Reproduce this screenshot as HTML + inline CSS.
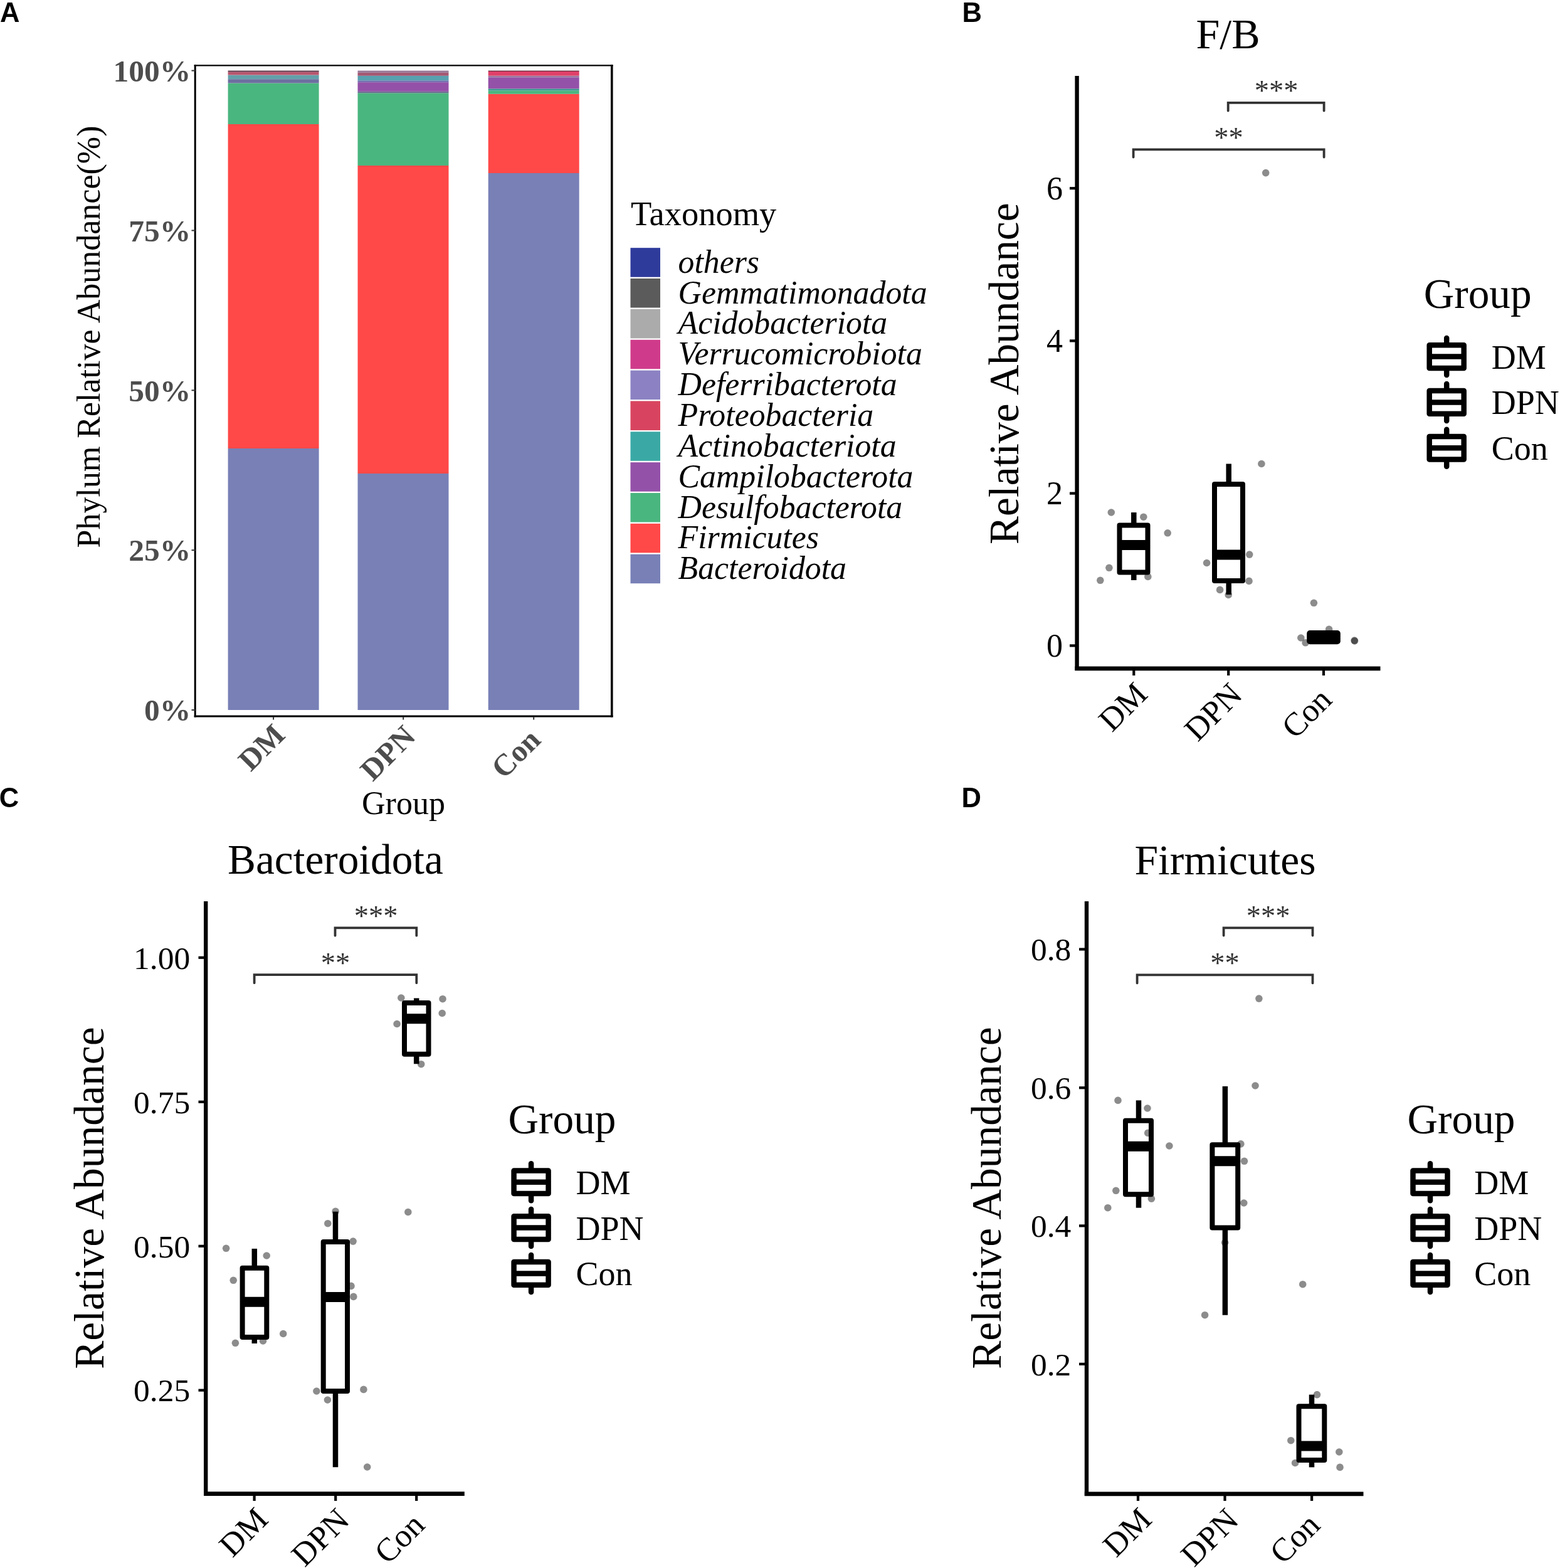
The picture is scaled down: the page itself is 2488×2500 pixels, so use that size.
<!DOCTYPE html>
<html><head><meta charset="utf-8"><title>Figure</title>
<style>
html,body{margin:0;padding:0;background:#fff;width:2488px;height:2500px;overflow:hidden;}
svg{display:block;}
.ser{font-family:"Liberation Serif","Times New Roman",serif;}
.san{font-family:"Liberation Sans",Arial,sans-serif;}
</style></head><body>
<svg width="2488" height="2500" viewBox="0 0 2488 2500">
<rect x="0" y="0" width="2488" height="2500" fill="#fff"/>
<text class="san" x="0" y="35" font-size="43.5" text-anchor="start" font-weight="bold" font-style="normal" fill="#000">A</text>
<text class="san" x="1534.4" y="35" font-size="43.5" text-anchor="start" font-weight="bold" font-style="normal" fill="#000">B</text>
<text class="san" x="-1.2" y="1287" font-size="43.5" text-anchor="start" font-weight="bold" font-style="normal" fill="#000">C</text>
<text class="san" x="1533.5" y="1287" font-size="43.5" text-anchor="start" font-weight="bold" font-style="normal" fill="#000">D</text>
<rect x="363.6" y="715.0" width="145.0" height="417.0" fill="#7880b6"/>
<rect x="363.6" y="198.0" width="145.0" height="517.0" fill="#ff4848"/>
<rect x="363.6" y="132.5" width="145.0" height="65.5" fill="#4ab67f"/>
<rect x="363.6" y="126.2" width="145.0" height="6.3" fill="#6d6ea0"/>
<rect x="363.6" y="119.5" width="145.0" height="6.7" fill="#63a0aa"/>
<rect x="363.6" y="114.6" width="145.0" height="4.9" fill="#b9566f"/>
<rect x="363.6" y="112.6" width="145.0" height="2.0" fill="#5a3344"/>
<rect x="570.5" y="755.0" width="145.0" height="377.0" fill="#7880b6"/>
<rect x="570.5" y="264.0" width="145.0" height="491.0" fill="#ff4848"/>
<rect x="570.5" y="148.3" width="145.0" height="115.7" fill="#4ab67f"/>
<rect x="570.5" y="145.8" width="145.0" height="2.5" fill="#6a6a90"/>
<rect x="570.5" y="131.2" width="145.0" height="14.6" fill="#9451a8"/>
<rect x="570.5" y="128.3" width="145.0" height="2.9" fill="#7470b0"/>
<rect x="570.5" y="120.8" width="145.0" height="7.5" fill="#58a0b0"/>
<rect x="570.5" y="115.8" width="145.0" height="5.0" fill="#a45872"/>
<rect x="570.5" y="112.6" width="145.0" height="3.2" fill="#9a7898"/>
<rect x="778.7" y="276.0" width="145.0" height="856.0" fill="#7880b6"/>
<rect x="778.7" y="149.8" width="145.0" height="126.2" fill="#ff4848"/>
<rect x="778.7" y="144.5" width="145.0" height="5.3" fill="#4ab67f"/>
<rect x="778.7" y="141.4" width="145.0" height="3.1" fill="#3a9a90"/>
<rect x="778.7" y="123.3" width="145.0" height="18.1" fill="#9451a8"/>
<rect x="778.7" y="120.7" width="145.0" height="2.6" fill="#9a7aa0"/>
<rect x="778.7" y="114.0" width="145.0" height="6.7" fill="#e04068"/>
<rect x="778.7" y="112.6" width="145.0" height="1.4" fill="#6e2c40"/>
<line x1="309.7" y1="104.4" x2="977.6" y2="104.4" stroke="#000" stroke-width="2.4" stroke-linecap="butt"/>
<line x1="309.7" y1="1142.0" x2="977.6" y2="1142.0" stroke="#000" stroke-width="3.2" stroke-linecap="butt"/>
<line x1="311.2" y1="103.2" x2="311.2" y2="1143.6" stroke="#000" stroke-width="3.0" stroke-linecap="butt"/>
<line x1="975.8" y1="103.2" x2="975.8" y2="1143.6" stroke="#000" stroke-width="3.6" stroke-linecap="butt"/>
<line x1="305.5" y1="1132.0" x2="311.5" y2="1132.0" stroke="#333" stroke-width="2.0" stroke-linecap="butt"/>
<text class="ser" x="304.3" y="1149.3" font-size="49.5" text-anchor="end" font-weight="bold" font-style="normal" fill="#4d4d4d">0%</text>
<line x1="305.5" y1="877.15" x2="311.5" y2="877.15" stroke="#333" stroke-width="2.0" stroke-linecap="butt"/>
<text class="ser" x="304.3" y="894.4" font-size="49.5" text-anchor="end" font-weight="bold" font-style="normal" fill="#4d4d4d">25%</text>
<line x1="305.5" y1="622.3" x2="311.5" y2="622.3" stroke="#333" stroke-width="2.0" stroke-linecap="butt"/>
<text class="ser" x="304.3" y="639.6" font-size="49.5" text-anchor="end" font-weight="bold" font-style="normal" fill="#4d4d4d">50%</text>
<line x1="305.5" y1="367.45000000000005" x2="311.5" y2="367.45000000000005" stroke="#333" stroke-width="2.0" stroke-linecap="butt"/>
<text class="ser" x="304.3" y="384.8" font-size="49.5" text-anchor="end" font-weight="bold" font-style="normal" fill="#4d4d4d">75%</text>
<line x1="305.5" y1="112.60000000000002" x2="311.5" y2="112.60000000000002" stroke="#333" stroke-width="2.0" stroke-linecap="butt"/>
<text class="ser" x="304.3" y="129.9" font-size="49.5" text-anchor="end" font-weight="bold" font-style="normal" fill="#4d4d4d">100%</text>
<line x1="436.1" y1="1143" x2="436.1" y2="1147.5" stroke="#333" stroke-width="2.0" stroke-linecap="butt"/>
<text class="ser" x="457.2" y="1174.4" font-size="48.5" text-anchor="end" font-weight="bold" font-style="normal" fill="#4d4d4d" transform="rotate(-45 457.2 1174.4)">DM</text>
<line x1="643.2" y1="1143" x2="643.2" y2="1147.5" stroke="#333" stroke-width="2.0" stroke-linecap="butt"/>
<text class="ser" x="665.0" y="1176.7" font-size="48.5" text-anchor="end" font-weight="bold" font-style="normal" fill="#4d4d4d" transform="rotate(-45 665.0 1176.7)">DPN</text>
<line x1="851.2" y1="1143" x2="851.2" y2="1147.5" stroke="#333" stroke-width="2.0" stroke-linecap="butt"/>
<text class="ser" x="864.6" y="1182.4" font-size="48.5" text-anchor="end" font-weight="bold" font-style="normal" fill="#4d4d4d" transform="rotate(-45 864.6 1182.4)">Con</text>
<text class="ser" x="643.5" y="1298.3" font-size="52" text-anchor="middle" font-weight="normal" font-style="normal" fill="#000">Group</text>
<text class="ser" x="159" y="537" font-size="52" text-anchor="middle" font-weight="normal" font-style="normal" fill="#000" transform="rotate(-90 159 537)">Phylum Relative Abundance(%)</text>
<text class="ser" x="1006" y="359.3" font-size="54.5" text-anchor="start" font-weight="normal" font-style="normal" fill="#000">Taxonomy</text>
<rect x="1005.5" y="395.2" width="47.5" height="46.5" fill="#2f3b9b"/>
<text class="ser" x="1081.5" y="434.7" font-size="51.8" text-anchor="start" font-weight="normal" font-style="italic" fill="#000">others</text>
<rect x="1005.5" y="444.05" width="47.5" height="46.5" fill="#5b5b5b"/>
<text class="ser" x="1081.5" y="483.55" font-size="51.8" text-anchor="start" font-weight="normal" font-style="italic" fill="#000">Gemmatimonadota</text>
<rect x="1005.5" y="492.9" width="47.5" height="46.5" fill="#ababab"/>
<text class="ser" x="1081.5" y="532.4" font-size="51.8" text-anchor="start" font-weight="normal" font-style="italic" fill="#000">Acidobacteriota</text>
<rect x="1005.5" y="541.75" width="47.5" height="46.5" fill="#cf3b8a"/>
<text class="ser" x="1081.5" y="581.25" font-size="51.8" text-anchor="start" font-weight="normal" font-style="italic" fill="#000">Verrucomicrobiota</text>
<rect x="1005.5" y="590.6" width="47.5" height="46.5" fill="#8c82c3"/>
<text class="ser" x="1081.5" y="630.1" font-size="51.8" text-anchor="start" font-weight="normal" font-style="italic" fill="#000">Deferribacterota</text>
<rect x="1005.5" y="639.45" width="47.5" height="46.5" fill="#d8445f"/>
<text class="ser" x="1081.5" y="678.95" font-size="51.8" text-anchor="start" font-weight="normal" font-style="italic" fill="#000">Proteobacteria</text>
<rect x="1005.5" y="688.3" width="47.5" height="46.5" fill="#3aa9a5"/>
<text class="ser" x="1081.5" y="727.8" font-size="51.8" text-anchor="start" font-weight="normal" font-style="italic" fill="#000">Actinobacteriota</text>
<rect x="1005.5" y="737.15" width="47.5" height="46.5" fill="#9451a8"/>
<text class="ser" x="1081.5" y="776.65" font-size="51.8" text-anchor="start" font-weight="normal" font-style="italic" fill="#000">Campilobacterota</text>
<rect x="1005.5" y="786.0" width="47.5" height="46.5" fill="#4ab67f"/>
<text class="ser" x="1081.5" y="825.5" font-size="51.8" text-anchor="start" font-weight="normal" font-style="italic" fill="#000">Desulfobacterota</text>
<rect x="1005.5" y="834.85" width="47.5" height="46.5" fill="#ff4848"/>
<text class="ser" x="1081.5" y="874.35" font-size="51.8" text-anchor="start" font-weight="normal" font-style="italic" fill="#000">Firmicutes</text>
<rect x="1005.5" y="883.7" width="47.5" height="46.5" fill="#7880b6"/>
<text class="ser" x="1081.5" y="923.2" font-size="51.8" text-anchor="start" font-weight="normal" font-style="italic" fill="#000">Bacteroidota</text>
<text class="ser" x="1958.6" y="77.2" font-size="68" text-anchor="middle" font-weight="normal" font-style="normal" fill="#000">F/B</text>
<line x1="1717.6" y1="121" x2="1717.6" y2="1069" stroke="#000" stroke-width="6.4" stroke-linecap="butt"/>
<line x1="1714.4" y1="1065.8" x2="2201.5" y2="1065.8" stroke="#000" stroke-width="6.8" stroke-linecap="butt"/>
<line x1="1706" y1="300.2" x2="1715" y2="300.2" stroke="#000" stroke-width="4.2" stroke-linecap="butt"/>
<text class="ser" x="1695" y="318.0" font-size="52" text-anchor="end" font-weight="normal" font-style="normal" fill="#000">6</text>
<line x1="1706" y1="543.4" x2="1715" y2="543.4" stroke="#000" stroke-width="4.2" stroke-linecap="butt"/>
<text class="ser" x="1695" y="561.2" font-size="52" text-anchor="end" font-weight="normal" font-style="normal" fill="#000">4</text>
<line x1="1706" y1="786.6" x2="1715" y2="786.6" stroke="#000" stroke-width="4.2" stroke-linecap="butt"/>
<text class="ser" x="1695" y="804.4" font-size="52" text-anchor="end" font-weight="normal" font-style="normal" fill="#000">2</text>
<line x1="1706" y1="1029.4" x2="1715" y2="1029.4" stroke="#000" stroke-width="4.2" stroke-linecap="butt"/>
<text class="ser" x="1695" y="1047.2" font-size="52" text-anchor="end" font-weight="normal" font-style="normal" fill="#000">0</text>
<line x1="1808.3" y1="1068" x2="1808.3" y2="1077" stroke="#000" stroke-width="4.2" stroke-linecap="butt"/>
<text class="ser" x="1832.8" y="1109.5" font-size="52" text-anchor="end" font-weight="normal" font-style="normal" fill="#000" transform="rotate(-45 1832.8 1109.5)">DM</text>
<line x1="1959.2" y1="1068" x2="1959.2" y2="1077" stroke="#000" stroke-width="4.2" stroke-linecap="butt"/>
<text class="ser" x="1983.7" y="1110.5" font-size="52" text-anchor="end" font-weight="normal" font-style="normal" fill="#000" transform="rotate(-45 1983.7 1110.5)">DPN</text>
<line x1="2111.0" y1="1068" x2="2111.0" y2="1077" stroke="#000" stroke-width="4.2" stroke-linecap="butt"/>
<text class="ser" x="2126.7" y="1118.5" font-size="52" text-anchor="end" font-weight="normal" font-style="normal" fill="#000" transform="rotate(-45 2126.7 1118.5)">Con</text>
<text class="ser" x="1623.7" y="595.6" font-size="67.4" text-anchor="middle" font-weight="normal" font-style="normal" fill="#000" transform="rotate(-90 1623.7 595.6)">Relative Abundance</text>
<line x1="1808.3" y1="817" x2="1808.3" y2="837.5" stroke="#000" stroke-width="8.5" stroke-linecap="butt"/>
<line x1="1808.3" y1="912.4" x2="1808.3" y2="925" stroke="#000" stroke-width="8.5" stroke-linecap="butt"/>
<rect x="1785.5" y="837.5" width="45.0" height="74.9" fill="#fff" stroke="#000" stroke-width="8" stroke-linejoin="round"/>
<line x1="1785.5" y1="869" x2="1830.5" y2="869" stroke="#000" stroke-width="16" stroke-linecap="butt"/>
<line x1="1959.7" y1="739.5" x2="1959.7" y2="772" stroke="#000" stroke-width="8.5" stroke-linecap="butt"/>
<line x1="1959.7" y1="926" x2="1959.7" y2="948" stroke="#000" stroke-width="8.5" stroke-linecap="butt"/>
<rect x="1937" y="772" width="45" height="154" fill="#fff" stroke="#000" stroke-width="8" stroke-linejoin="round"/>
<line x1="1937" y1="884.5" x2="1982" y2="884.5" stroke="#000" stroke-width="16" stroke-linecap="butt"/>
<rect x="2084.2" y="1005" width="53.6" height="22.2" rx="5" fill="#000"/>
<circle cx="1772.3" cy="817" r="5.8" fill="#000" fill-opacity="0.45"/>
<circle cx="1823.8" cy="824.2" r="5.8" fill="#000" fill-opacity="0.45"/>
<circle cx="1862.2" cy="849.8" r="5.8" fill="#000" fill-opacity="0.45"/>
<circle cx="1768.9" cy="905.3" r="5.8" fill="#000" fill-opacity="0.45"/>
<circle cx="1754.8" cy="925.3" r="5.8" fill="#000" fill-opacity="0.45"/>
<circle cx="1830.8" cy="919.4" r="5.8" fill="#000" fill-opacity="0.45"/>
<circle cx="2011.9" cy="739.5" r="5.8" fill="#000" fill-opacity="0.45"/>
<circle cx="1992.7" cy="884.1" r="5.8" fill="#000" fill-opacity="0.45"/>
<circle cx="1924.6" cy="897.5" r="5.8" fill="#000" fill-opacity="0.45"/>
<circle cx="1992" cy="926.4" r="5.8" fill="#000" fill-opacity="0.45"/>
<circle cx="1945.6" cy="940.4" r="5.8" fill="#000" fill-opacity="0.45"/>
<circle cx="1959.2" cy="948.5" r="5.8" fill="#000" fill-opacity="0.45"/>
<circle cx="2018.7" cy="275.6" r="5.8" fill="#000" fill-opacity="0.45"/>
<circle cx="2095.4" cy="961.3" r="5.8" fill="#000" fill-opacity="0.45"/>
<circle cx="2074.8" cy="1017" r="5.8" fill="#000" fill-opacity="0.45"/>
<circle cx="2082.1" cy="1024.8" r="5.8" fill="#000" fill-opacity="0.45"/>
<circle cx="2119.6" cy="1003.4" r="5.8" fill="#000" fill-opacity="0.45"/>
<circle cx="2160.1" cy="1021.1" r="5.8" fill="#000" fill-opacity="0.45"/>
<circle cx="2160.5" cy="1022" r="5.8" fill="#000" fill-opacity="0.45"/>
<path d="M1958.7 176.6 L1958.7 163.8 L2111.6 163.8 L2111.6 176.6" fill="none" stroke="#333" stroke-width="3.8" stroke-linecap="round"/>
<path d="M1807.6 250.5 L1807.6 238.4 L2111.6 238.4 L2111.6 250.5" fill="none" stroke="#333" stroke-width="3.8" stroke-linecap="round"/>
<text class="ser" x="2035.5" y="160.3" font-size="46.5" text-anchor="middle" font-weight="normal" font-style="normal" fill="#333">***</text>
<text class="ser" x="1959.5" y="234.8" font-size="46.5" text-anchor="middle" font-weight="normal" font-style="normal" fill="#333">**</text>
<text class="ser" x="2270.7" y="491" font-size="67.3" text-anchor="start" font-weight="normal" font-style="normal" fill="#000">Group</text>
<line x1="2307.2" y1="539.1" x2="2307.2" y2="598.1" stroke="#000" stroke-width="8.5" stroke-linecap="round"/>
<rect x="2279.7" y="550.3000000000001" width="55" height="36.6" fill="#fff" stroke="#000" stroke-width="8.5" stroke-linejoin="round"/>
<line x1="2279.7" y1="568.6" x2="2334.7" y2="568.6" stroke="#000" stroke-width="8.5" stroke-linecap="butt"/>
<text class="ser" x="2378.7" y="587.6" font-size="54" text-anchor="start" font-weight="normal" font-style="normal" fill="#000">DM</text>
<line x1="2307.2" y1="611.9" x2="2307.2" y2="670.9" stroke="#000" stroke-width="8.5" stroke-linecap="round"/>
<rect x="2279.7" y="623.1" width="55" height="36.6" fill="#fff" stroke="#000" stroke-width="8.5" stroke-linejoin="round"/>
<line x1="2279.7" y1="641.4" x2="2334.7" y2="641.4" stroke="#000" stroke-width="8.5" stroke-linecap="butt"/>
<text class="ser" x="2378.7" y="660.4" font-size="54" text-anchor="start" font-weight="normal" font-style="normal" fill="#000">DPN</text>
<line x1="2307.2" y1="684.7" x2="2307.2" y2="743.7" stroke="#000" stroke-width="8.5" stroke-linecap="round"/>
<rect x="2279.7" y="695.9000000000001" width="55" height="36.6" fill="#fff" stroke="#000" stroke-width="8.5" stroke-linejoin="round"/>
<line x1="2279.7" y1="714.2" x2="2334.7" y2="714.2" stroke="#000" stroke-width="8.5" stroke-linecap="butt"/>
<text class="ser" x="2378.7" y="733.2" font-size="54" text-anchor="start" font-weight="normal" font-style="normal" fill="#000">Con</text>
<text class="ser" x="535" y="1393" font-size="67.3" text-anchor="middle" font-weight="normal" font-style="normal" fill="#000">Bacteroidota</text>
<line x1="328.2" y1="1437" x2="328.2" y2="2385" stroke="#000" stroke-width="6.4" stroke-linecap="butt"/>
<line x1="325" y1="2381.7" x2="740.8" y2="2381.7" stroke="#000" stroke-width="6.8" stroke-linecap="butt"/>
<line x1="316.5" y1="1526.8" x2="325.5" y2="1526.8" stroke="#000" stroke-width="4.2" stroke-linecap="butt"/>
<text class="ser" x="303.2" y="1544.6" font-size="51.5" text-anchor="end" font-weight="normal" font-style="normal" fill="#000">1.00</text>
<line x1="316.5" y1="1756.8" x2="325.5" y2="1756.8" stroke="#000" stroke-width="4.2" stroke-linecap="butt"/>
<text class="ser" x="303.2" y="1774.6" font-size="51.5" text-anchor="end" font-weight="normal" font-style="normal" fill="#000">0.75</text>
<line x1="316.5" y1="1986.8" x2="325.5" y2="1986.8" stroke="#000" stroke-width="4.2" stroke-linecap="butt"/>
<text class="ser" x="303.2" y="2004.6" font-size="51.5" text-anchor="end" font-weight="normal" font-style="normal" fill="#000">0.50</text>
<line x1="316.5" y1="2216.6" x2="325.5" y2="2216.6" stroke="#000" stroke-width="4.2" stroke-linecap="butt"/>
<text class="ser" x="303.2" y="2234.4" font-size="51.5" text-anchor="end" font-weight="normal" font-style="normal" fill="#000">0.25</text>
<line x1="405.6" y1="2384" x2="405.6" y2="2393" stroke="#000" stroke-width="4.2" stroke-linecap="butt"/>
<text class="ser" x="430.1" y="2425.4" font-size="52" text-anchor="end" font-weight="normal" font-style="normal" fill="#000" transform="rotate(-45 430.1 2425.4)">DM</text>
<line x1="535.2" y1="2384" x2="535.2" y2="2393" stroke="#000" stroke-width="4.2" stroke-linecap="butt"/>
<text class="ser" x="559.7" y="2426.4" font-size="52" text-anchor="end" font-weight="normal" font-style="normal" fill="#000" transform="rotate(-45 559.7 2426.4)">DPN</text>
<line x1="664.2" y1="2384" x2="664.2" y2="2393" stroke="#000" stroke-width="4.2" stroke-linecap="butt"/>
<text class="ser" x="679.9" y="2434.4" font-size="52" text-anchor="end" font-weight="normal" font-style="normal" fill="#000" transform="rotate(-45 679.9 2434.4)">Con</text>
<text class="ser" x="164.5" y="1910" font-size="67.5" text-anchor="middle" font-weight="normal" font-style="normal" fill="#000" transform="rotate(-90 164.5 1910)">Relative Abundance</text>
<line x1="405.8" y1="1990.9" x2="405.8" y2="2021.8" stroke="#000" stroke-width="8.5" stroke-linecap="butt"/>
<line x1="405.8" y1="2131.9" x2="405.8" y2="2142" stroke="#000" stroke-width="8.5" stroke-linecap="butt"/>
<rect x="386.6" y="2021.8" width="38.7" height="110.1" fill="#fff" stroke="#000" stroke-width="8" stroke-linejoin="round"/>
<line x1="386.6" y1="2075.8" x2="425.3" y2="2075.8" stroke="#000" stroke-width="16" stroke-linecap="butt"/>
<line x1="535" y1="1931.8" x2="535" y2="1979.9" stroke="#000" stroke-width="8.5" stroke-linecap="butt"/>
<line x1="535" y1="2218" x2="535" y2="2339.2" stroke="#000" stroke-width="8.5" stroke-linecap="butt"/>
<rect x="515.7" y="1979.9" width="38.3" height="238.1" fill="#fff" stroke="#000" stroke-width="8" stroke-linejoin="round"/>
<line x1="515.7" y1="2068" x2="554" y2="2068" stroke="#000" stroke-width="16" stroke-linecap="butt"/>
<line x1="664.2" y1="1591.5" x2="664.2" y2="1599" stroke="#000" stroke-width="8.5" stroke-linecap="butt"/>
<line x1="664.2" y1="1680.7" x2="664.2" y2="1696.3" stroke="#000" stroke-width="8.5" stroke-linecap="butt"/>
<rect x="645" y="1599" width="38.5" height="81.7" fill="#fff" stroke="#000" stroke-width="8" stroke-linejoin="round"/>
<line x1="645" y1="1624.2" x2="683.5" y2="1624.2" stroke="#000" stroke-width="16" stroke-linecap="butt"/>
<circle cx="360.6" cy="1990.3" r="5.8" fill="#000" fill-opacity="0.45"/>
<circle cx="425.2" cy="2002" r="5.8" fill="#000" fill-opacity="0.45"/>
<circle cx="372.2" cy="2041.3" r="5.8" fill="#000" fill-opacity="0.45"/>
<circle cx="451.7" cy="2126.5" r="5.8" fill="#000" fill-opacity="0.45"/>
<circle cx="375.4" cy="2141.3" r="5.8" fill="#000" fill-opacity="0.45"/>
<circle cx="419.5" cy="2138" r="5.8" fill="#000" fill-opacity="0.45"/>
<circle cx="535.1" cy="1931.4" r="5.8" fill="#000" fill-opacity="0.45"/>
<circle cx="522.8" cy="1950.7" r="5.8" fill="#000" fill-opacity="0.45"/>
<circle cx="563.1" cy="1979.1" r="5.8" fill="#000" fill-opacity="0.45"/>
<circle cx="560" cy="2050.4" r="5.8" fill="#000" fill-opacity="0.45"/>
<circle cx="563.8" cy="2067.4" r="5.8" fill="#000" fill-opacity="0.45"/>
<circle cx="504.9" cy="2218" r="5.8" fill="#000" fill-opacity="0.45"/>
<circle cx="522.4" cy="2232" r="5.8" fill="#000" fill-opacity="0.45"/>
<circle cx="579.9" cy="2215.4" r="5.8" fill="#000" fill-opacity="0.45"/>
<circle cx="585.7" cy="2339" r="5.8" fill="#000" fill-opacity="0.45"/>
<circle cx="639.8" cy="1591" r="5.8" fill="#000" fill-opacity="0.45"/>
<circle cx="706" cy="1592.7" r="5.8" fill="#000" fill-opacity="0.45"/>
<circle cx="705.2" cy="1615.5" r="5.8" fill="#000" fill-opacity="0.45"/>
<circle cx="633.1" cy="1632.5" r="5.8" fill="#000" fill-opacity="0.45"/>
<circle cx="671.7" cy="1696.7" r="5.8" fill="#000" fill-opacity="0.45"/>
<circle cx="650.8" cy="1932.5" r="5.8" fill="#000" fill-opacity="0.45"/>
<path d="M534.5 1491.7 L534.5 1479.3 L664.3 1479.3 L664.3 1491.7" fill="none" stroke="#333" stroke-width="3.8" stroke-linecap="round"/>
<path d="M405.6 1567.2 L405.6 1554.2 L664.3 1554.2 L664.3 1567.2" fill="none" stroke="#333" stroke-width="3.8" stroke-linecap="round"/>
<text class="ser" x="599.5" y="1476.3" font-size="46.5" text-anchor="middle" font-weight="normal" font-style="normal" fill="#333">***</text>
<text class="ser" x="535" y="1550.8" font-size="46.5" text-anchor="middle" font-weight="normal" font-style="normal" fill="#333">**</text>
<text class="ser" x="810.5" y="1807" font-size="67.3" text-anchor="start" font-weight="normal" font-style="normal" fill="#000">Group</text>
<line x1="847.1" y1="1855.3" x2="847.1" y2="1914.3" stroke="#000" stroke-width="8.5" stroke-linecap="round"/>
<rect x="819.6" y="1866.5" width="55" height="36.6" fill="#fff" stroke="#000" stroke-width="8.5" stroke-linejoin="round"/>
<line x1="819.6" y1="1884.8" x2="874.6" y2="1884.8" stroke="#000" stroke-width="8.5" stroke-linecap="butt"/>
<text class="ser" x="918.4" y="1903.8" font-size="54" text-anchor="start" font-weight="normal" font-style="normal" fill="#000">DM</text>
<line x1="847.1" y1="1928.1" x2="847.1" y2="1987.1" stroke="#000" stroke-width="8.5" stroke-linecap="round"/>
<rect x="819.6" y="1939.3" width="55" height="36.6" fill="#fff" stroke="#000" stroke-width="8.5" stroke-linejoin="round"/>
<line x1="819.6" y1="1957.6" x2="874.6" y2="1957.6" stroke="#000" stroke-width="8.5" stroke-linecap="butt"/>
<text class="ser" x="918.4" y="1976.6" font-size="54" text-anchor="start" font-weight="normal" font-style="normal" fill="#000">DPN</text>
<line x1="847.1" y1="2000.8999999999999" x2="847.1" y2="2059.8999999999996" stroke="#000" stroke-width="8.5" stroke-linecap="round"/>
<rect x="819.6" y="2012.1" width="55" height="36.6" fill="#fff" stroke="#000" stroke-width="8.5" stroke-linejoin="round"/>
<line x1="819.6" y1="2030.3999999999999" x2="874.6" y2="2030.3999999999999" stroke="#000" stroke-width="8.5" stroke-linecap="butt"/>
<text class="ser" x="918.4" y="2049.4" font-size="54" text-anchor="start" font-weight="normal" font-style="normal" fill="#000">Con</text>
<text class="ser" x="1954" y="1394" font-size="67.6" text-anchor="middle" font-weight="normal" font-style="normal" fill="#000">Firmicutes</text>
<line x1="1733" y1="1437" x2="1733" y2="2385" stroke="#000" stroke-width="6.4" stroke-linecap="butt"/>
<line x1="1729.8" y1="2381.8" x2="2174.5" y2="2381.8" stroke="#000" stroke-width="6.8" stroke-linecap="butt"/>
<line x1="1721" y1="1513.5" x2="1730" y2="1513.5" stroke="#000" stroke-width="4.2" stroke-linecap="butt"/>
<text class="ser" x="1708.3" y="1531.3" font-size="51.5" text-anchor="end" font-weight="normal" font-style="normal" fill="#000">0.8</text>
<line x1="1721" y1="1734.3" x2="1730" y2="1734.3" stroke="#000" stroke-width="4.2" stroke-linecap="butt"/>
<text class="ser" x="1708.3" y="1752.1" font-size="51.5" text-anchor="end" font-weight="normal" font-style="normal" fill="#000">0.6</text>
<line x1="1721" y1="1954.4" x2="1730" y2="1954.4" stroke="#000" stroke-width="4.2" stroke-linecap="butt"/>
<text class="ser" x="1708.3" y="1972.2" font-size="51.5" text-anchor="end" font-weight="normal" font-style="normal" fill="#000">0.4</text>
<line x1="1721" y1="2174.8" x2="1730" y2="2174.8" stroke="#000" stroke-width="4.2" stroke-linecap="butt"/>
<text class="ser" x="1708.3" y="2192.6" font-size="51.5" text-anchor="end" font-weight="normal" font-style="normal" fill="#000">0.2</text>
<line x1="1815" y1="2384" x2="1815" y2="2393" stroke="#000" stroke-width="4.2" stroke-linecap="butt"/>
<text class="ser" x="1839.5" y="2425.5" font-size="52" text-anchor="end" font-weight="normal" font-style="normal" fill="#000" transform="rotate(-45 1839.5 2425.5)">DM</text>
<line x1="1953.5" y1="2384" x2="1953.5" y2="2393" stroke="#000" stroke-width="4.2" stroke-linecap="butt"/>
<text class="ser" x="1978.0" y="2426.5" font-size="52" text-anchor="end" font-weight="normal" font-style="normal" fill="#000" transform="rotate(-45 1978.0 2426.5)">DPN</text>
<line x1="2092.1" y1="2384" x2="2092.1" y2="2393" stroke="#000" stroke-width="4.2" stroke-linecap="butt"/>
<text class="ser" x="2107.8" y="2434.5" font-size="52" text-anchor="end" font-weight="normal" font-style="normal" fill="#000" transform="rotate(-45 2107.8 2434.5)">Con</text>
<text class="ser" x="1596.2" y="1910" font-size="67.5" text-anchor="middle" font-weight="normal" font-style="normal" fill="#000" transform="rotate(-90 1596.2 1910)">Relative Abundance</text>
<line x1="1816" y1="1754.4" x2="1816" y2="1786.7" stroke="#000" stroke-width="8.5" stroke-linecap="butt"/>
<line x1="1816" y1="1904.3" x2="1816" y2="1925.7" stroke="#000" stroke-width="8.5" stroke-linecap="butt"/>
<rect x="1795" y="1786.7" width="41" height="117.6" fill="#fff" stroke="#000" stroke-width="8" stroke-linejoin="round"/>
<line x1="1795" y1="1827.8" x2="1836" y2="1827.8" stroke="#000" stroke-width="16" stroke-linecap="butt"/>
<line x1="1953.9" y1="1731.9" x2="1953.9" y2="1825.3" stroke="#000" stroke-width="8.5" stroke-linecap="butt"/>
<line x1="1953.9" y1="1957.6" x2="1953.9" y2="2096.7" stroke="#000" stroke-width="8.5" stroke-linecap="butt"/>
<rect x="1933.4" y="1825.3" width="40.8" height="132.3" fill="#fff" stroke="#000" stroke-width="8" stroke-linejoin="round"/>
<line x1="1933.4" y1="1851.3" x2="1974.2" y2="1851.3" stroke="#000" stroke-width="16" stroke-linecap="butt"/>
<line x1="2092" y1="2223.6" x2="2092" y2="2242.3" stroke="#000" stroke-width="8.5" stroke-linecap="butt"/>
<line x1="2092" y1="2328" x2="2092" y2="2339.4" stroke="#000" stroke-width="8.5" stroke-linecap="butt"/>
<rect x="2071.5" y="2242.3" width="40.8" height="85.7" fill="#fff" stroke="#000" stroke-width="8" stroke-linejoin="round"/>
<line x1="2071.5" y1="2305.5" x2="2112.3" y2="2305.5" stroke="#000" stroke-width="16" stroke-linecap="butt"/>
<circle cx="1783" cy="1754.4" r="5.8" fill="#000" fill-opacity="0.45"/>
<circle cx="1830" cy="1767" r="5.8" fill="#000" fill-opacity="0.45"/>
<circle cx="1864.9" cy="1827" r="5.8" fill="#000" fill-opacity="0.45"/>
<circle cx="1830.7" cy="1806.4" r="5.8" fill="#000" fill-opacity="0.45"/>
<circle cx="1779.8" cy="1898.3" r="5.8" fill="#000" fill-opacity="0.45"/>
<circle cx="1766.8" cy="1925.7" r="5.8" fill="#000" fill-opacity="0.45"/>
<circle cx="1836.4" cy="1911.2" r="5.8" fill="#000" fill-opacity="0.45"/>
<circle cx="2002" cy="1731" r="5.8" fill="#000" fill-opacity="0.45"/>
<circle cx="1978.9" cy="1823.9" r="5.8" fill="#000" fill-opacity="0.45"/>
<circle cx="1984.5" cy="1851.3" r="5.8" fill="#000" fill-opacity="0.45"/>
<circle cx="1983.8" cy="1918" r="5.8" fill="#000" fill-opacity="0.45"/>
<circle cx="1953.6" cy="1981.2" r="5.8" fill="#000" fill-opacity="0.45"/>
<circle cx="1921.6" cy="2096.7" r="5.8" fill="#000" fill-opacity="0.45"/>
<circle cx="2007.9" cy="1592.1" r="5.8" fill="#000" fill-opacity="0.45"/>
<circle cx="2077.7" cy="2047.7" r="5.8" fill="#000" fill-opacity="0.45"/>
<circle cx="2100.5" cy="2223.6" r="5.8" fill="#000" fill-opacity="0.45"/>
<circle cx="2058.8" cy="2296.7" r="5.8" fill="#000" fill-opacity="0.45"/>
<circle cx="2135.8" cy="2315" r="5.8" fill="#000" fill-opacity="0.45"/>
<circle cx="2065.6" cy="2332.5" r="5.8" fill="#000" fill-opacity="0.45"/>
<circle cx="2137" cy="2339.4" r="5.8" fill="#000" fill-opacity="0.45"/>
<path d="M1951.6 1491.6 L1951.6 1479.4 L2093.5 1479.4 L2093.5 1491.6" fill="none" stroke="#333" stroke-width="3.8" stroke-linecap="round"/>
<path d="M1813.6 1567.4 L1813.6 1554.3 L2093.5 1554.3 L2093.5 1567.4" fill="none" stroke="#333" stroke-width="3.8" stroke-linecap="round"/>
<text class="ser" x="2022.5" y="1476.3" font-size="46.5" text-anchor="middle" font-weight="normal" font-style="normal" fill="#333">***</text>
<text class="ser" x="1953.5" y="1550.8" font-size="46.5" text-anchor="middle" font-weight="normal" font-style="normal" fill="#333">**</text>
<text class="ser" x="2244.5" y="1807" font-size="67.3" text-anchor="start" font-weight="normal" font-style="normal" fill="#000">Group</text>
<line x1="2281.0" y1="1855.3" x2="2281.0" y2="1914.3" stroke="#000" stroke-width="8.5" stroke-linecap="round"/>
<rect x="2253.5" y="1866.5" width="55" height="36.6" fill="#fff" stroke="#000" stroke-width="8.5" stroke-linejoin="round"/>
<line x1="2253.5" y1="1884.8" x2="2308.5" y2="1884.8" stroke="#000" stroke-width="8.5" stroke-linecap="butt"/>
<text class="ser" x="2351.3" y="1903.8" font-size="54" text-anchor="start" font-weight="normal" font-style="normal" fill="#000">DM</text>
<line x1="2281.0" y1="1928.1" x2="2281.0" y2="1987.1" stroke="#000" stroke-width="8.5" stroke-linecap="round"/>
<rect x="2253.5" y="1939.3" width="55" height="36.6" fill="#fff" stroke="#000" stroke-width="8.5" stroke-linejoin="round"/>
<line x1="2253.5" y1="1957.6" x2="2308.5" y2="1957.6" stroke="#000" stroke-width="8.5" stroke-linecap="butt"/>
<text class="ser" x="2351.3" y="1976.6" font-size="54" text-anchor="start" font-weight="normal" font-style="normal" fill="#000">DPN</text>
<line x1="2281.0" y1="2000.8999999999999" x2="2281.0" y2="2059.8999999999996" stroke="#000" stroke-width="8.5" stroke-linecap="round"/>
<rect x="2253.5" y="2012.1" width="55" height="36.6" fill="#fff" stroke="#000" stroke-width="8.5" stroke-linejoin="round"/>
<line x1="2253.5" y1="2030.3999999999999" x2="2308.5" y2="2030.3999999999999" stroke="#000" stroke-width="8.5" stroke-linecap="butt"/>
<text class="ser" x="2351.3" y="2049.4" font-size="54" text-anchor="start" font-weight="normal" font-style="normal" fill="#000">Con</text>
</svg>
</body></html>
